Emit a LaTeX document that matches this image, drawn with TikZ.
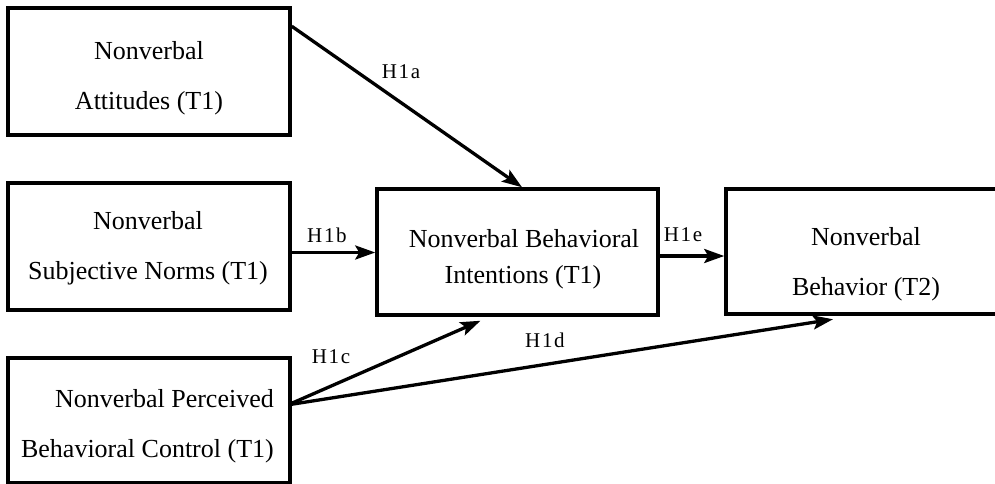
\documentclass[tikz,border=0pt]{standalone}
\usepackage{fontspec}
\setmainfont{Liberation Serif}
\newfontfamily\lblfont[LetterSpace=8]{Liberation Serif}
\usetikzlibrary{arrows.meta}
\begin{document}
\begin{tikzpicture}[x=1pt,y=-1pt,
  box/.style={draw, line width=3.5pt, minimum width=282pt, minimum height=127pt, inner sep=0pt},
  txt/.style={font=\fontsize{26}{30}\selectfont, inner sep=0pt, anchor=base},
  txtr/.style={txt, anchor=base east},
  lbl/.style={font=\lblfont\fontsize{21}{24}\selectfont, inner sep=0pt, anchor=base},
  arr/.style={line width=3.3pt, -{Stealth[length=20pt,width=14pt,inset=4pt]}}]
\useasboundingbox (0,0) rectangle (995,484);
\clip (0,0) rectangle (995,484);
% boxes
\node[box] (A) at (149,71.5) {};
\node[box] (B) at (149,246.5) {};
\node[box, minimum height=125pt] (C) at (149,420.5) {};
\node[box, minimum width=281pt, minimum height=126pt] (D) at (517.5,252) {};
\node[box, minimum height=125pt] (E) at (867,251.5) {};
% texts
\node[txt] (A1) at (149,60) {Nonverbal};
\node[txt] (A2) at (149,110) {Attitudes (T1)};
\node[txt] (B1) at (148,229) {Nonverbal};
\node[txt] (B2) at (148,279) {Subjective Norms (T1)};
\node[txtr] (C1) at (274,407) {Nonverbal Perceived};
\node[txtr] (C2) at (274,457) {Behavioral Control (T1)};
\node[txt] (D1) at (524,247) {Nonverbal Behavioral};
\node[txt] (D2) at (523,283) {Intentions (T1)};
\node[txt] (E1) at (866,245) {Nonverbal};
\node[txt] (E2) at (866,295) {Behavior (T2)};
% labels
\node[lbl] (la) at (401,79) {H1a};
\node[lbl] (lb) at (327,242) {H1b};
\node[lbl] (lc) at (331,363) {H1c};
\node[lbl] (ld) at (545,347) {H1d};
\node[lbl] (le) at (683,241) {H1e};
% connectors
\draw[arr] ([yshift=-20pt]A.north east) -- ([xshift=4.5pt]D.north);
\draw[arr] ([yshift=-6pt]B.east) -- ([yshift=-6pt]B.east -| D.west);
\draw[arr] ([yshift=-4pt]D.east) -- ([yshift=-4pt]D.east -| E.west);
\draw[arr] ([yshift=-47pt]C.north east) -- ([xshift=-37pt,yshift=-4pt]D.south);
\draw[arr] ([yshift=-48pt]C.north east) -- ([xshift=-34pt,yshift=-3.5pt]E.south);
\end{tikzpicture}
\end{document}
